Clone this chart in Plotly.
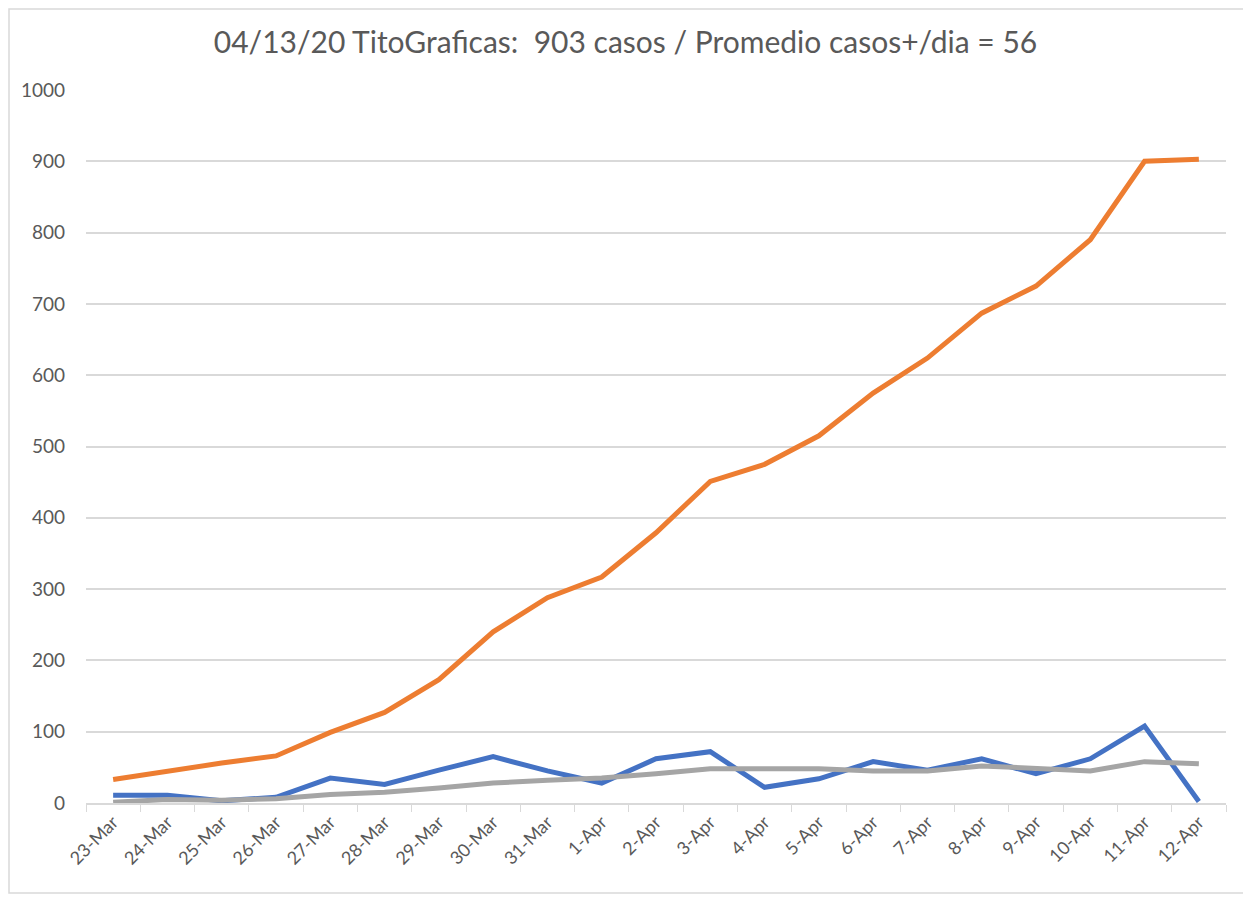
import plotly.graph_objects as go

dates = ["23-Mar", "24-Mar", "25-Mar", "26-Mar", "27-Mar", "28-Mar", "29-Mar", "30-Mar",
         "31-Mar", "1-Apr", "2-Apr", "3-Apr", "4-Apr", "5-Apr", "6-Apr", "7-Apr",
         "8-Apr", "9-Apr", "10-Apr", "11-Apr", "12-Apr"]
total_cases = [33, 45, 56, 66, 99, 127, 173, 240, 288, 317, 379, 451, 475, 515, 575, 624,
               687, 725, 790, 900, 903]
new_cases = [11, 11, 3, 8, 35, 26, 46, 65, 45, 28, 62, 72, 22, 34, 58, 46, 62, 41, 62, 108, 2]
avg_cases = [1, 5, 4, 6, 12, 15, 21, 28, 32, 35, 41, 48, 48, 48, 45, 45, 52, 48, 45, 58, 55]
y_ticks = [0, 100, 200, 300, 400, 500, 600, 700, 800, 900, 1000]

title_text = "04/13/20 TitoGraficas:  903 casos / Promedio casos+/dia = 56"

fig = go.Figure()
fig.add_trace(go.Scatter(x=dates, y=total_cases, mode="lines",
                         line=dict(color="#ED7D31", width=5), name="Total"))
fig.add_trace(go.Scatter(x=dates, y=new_cases, mode="lines",
                         line=dict(color="#4472C4", width=5), name="Nuevos"))
fig.add_trace(go.Scatter(x=dates, y=avg_cases, mode="lines",
                         line=dict(color="#A5A5A5", width=5), name="Promedio"))

font_family = "Lato, sans-serif"

fig.update_layout(
    width=1251, height=898,
    margin=dict(l=78, r=33, t=82, b=103),
    paper_bgcolor="white", plot_bgcolor="white",
    showlegend=False,
    title=dict(text=title_text, x=0.5 - 8 / 1251, xanchor="center", y=0.962, yanchor="middle",
               font=dict(family=font_family, size=30, color="#595959")),
    font=dict(family=font_family, color="#595959"),
)
fig.update_xaxes(
    type="category", tickangle=-45, tickfont=dict(size=18, color="#595959"),
    showgrid=False, showline=True, linecolor="#D9D9D9", linewidth=1.5,
    ticks="outside", tickson="boundaries", ticklen=7, tickcolor="#D9D9D9",
    range=[-0.5, len(dates) - 0.5],
)
fig.update_yaxes(
    range=[0, 1000], tickvals=y_ticks, tickfont=dict(size=19, color="#595959"),
    showgrid=True, gridcolor="#D9D9D9", gridwidth=1.5, zeroline=False,
    showline=False, ticklabelstandoff=20,
)
fig.add_shape(type="rect", xref="paper", yref="paper",
              x0=-77 / 1140, x1=1 + 18 / 1140, y0=-90 / 713, y1=1 + 81 / 713,
              line=dict(color="#D9D9D9", width=1.5))

fig.write_html("out.html")
